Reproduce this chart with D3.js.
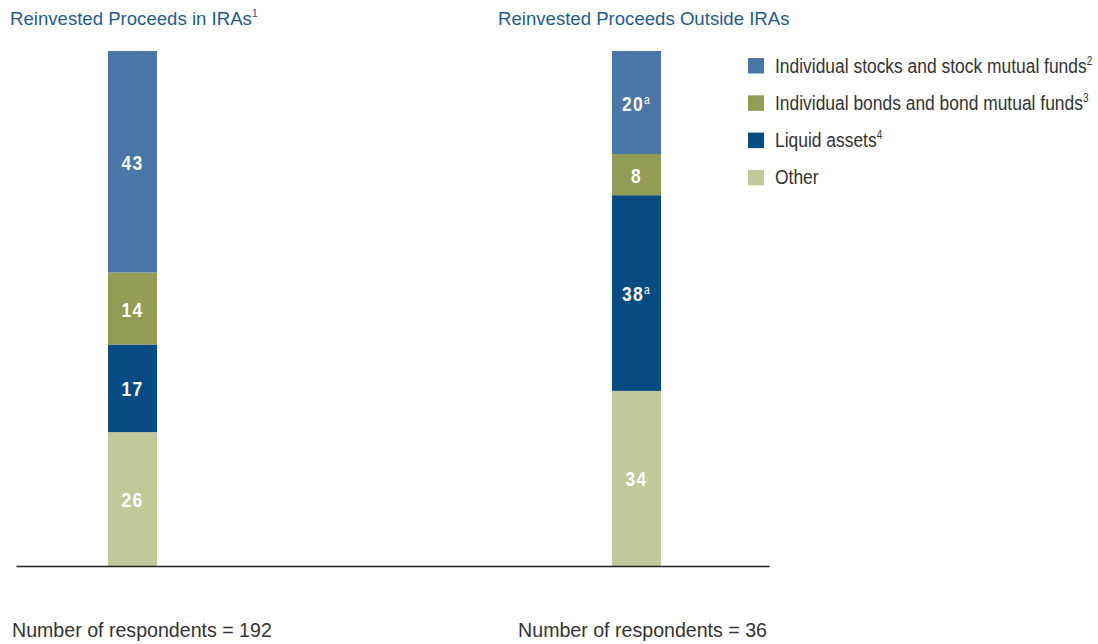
<!DOCTYPE html>
<html>
<head>
<meta charset="utf-8">
<script src="https://cdn.jsdelivr.net/npm/d3@7"></script>
<style>
  html, body { margin: 0; padding: 0; background: #fff; }
  svg { display: block; font-family: "Liberation Sans", Arial, sans-serif; }
</style>
</head>
<body>
<svg id="chart" width="1098" height="644"></svg>
<script>
// Panels (one stacked bar each)
const panels = ["Reinvested Proceeds in IRAs", "Reinvested Proceeds Outside IRAs"];
const panelNotes = ["1", ""];
const respondents = [192, 36];

// Series, in legend order (top of the stack first)
const seriesNames = ["Individual stocks and stock mutual funds", "Individual bonds and bond mutual funds", "Liquid assets", "Other"];
const seriesNotes = ["2", "3", "4", ""];
const seriesColors = ["#4a77a8", "#939c55", "#074b83", "#c1c899"];

// Percent values per panel
const stocks = [43, 20];
const bonds = [14, 8];
const liquid = [17, 38];
const other = [26, 34];
// Significance markers on value labels
const stocksMark = ["", "a"];
const bondsMark = ["", ""];
const liquidMark = ["", "a"];
const otherMark = ["", ""];

const svg = d3.select("#chart");

// Condensed text: a horizontally squeezed group holding one text element
function condensedText(parent, x, y, sx) {
  return parent.append("g")
    .attr("transform", `translate(${x},${y}) scale(${sx},1)`)
    .append("text");
}

const rows = panels.map((p, i) => ({
  panel: p,
  "Other": other[i],
  "Liquid assets": liquid[i],
  "Individual bonds and bond mutual funds": bonds[i],
  "Individual stocks and stock mutual funds": stocks[i]
}));
const marks = {
  "Individual stocks and stock mutual funds": stocksMark,
  "Individual bonds and bond mutual funds": bondsMark,
  "Liquid assets": liquidMark,
  "Other": otherMark
};

// Stack from the bottom: Other, Liquid, Bonds, Stocks
const stackKeys = seriesNames.slice().reverse();
const stacked = d3.stack().keys(stackKeys)(rows);
const color = d3.scaleOrdinal().domain(seriesNames).range(seriesColors);

const y = d3.scaleLinear().domain([0, 100]).range([566, 51]);
const x = d3.scalePoint().domain(panels).range([132.5, 636.5]);
const barW = 49;

// Bars
svg.append("g").selectAll("g").data(stacked).join("g")
  .attr("fill", d => color(d.key))
  .selectAll("rect").data(d => d).join("rect")
  .attr("x", d => x(d.data.panel) - barW / 2)
  .attr("width", barW)
  .attr("y", d => y(d[1]))
  .attr("height", d => y(d[0]) - y(d[1]));

// Value labels
const labelLayer = svg.append("g");
stacked.forEach(s => {
  s.forEach((v, i) => {
    const t = condensedText(labelLayer, x(v.data.panel), (y(v[0]) + y(v[1])) / 2 + 8, 0.85)
      .attr("text-anchor", "middle")
      .attr("fill", "#fff")
      .attr("font-weight", "bold")
      .attr("font-size", 20.5)
      .attr("letter-spacing", 1.5);
    t.append("tspan").text(v[1] - v[0]);
    const m = marks[s.key][i];
    if (m) t.append("tspan").attr("font-size", 12).attr("font-weight", "normal").attr("dy", -7).text(m);
  });
});

// Baseline
svg.append("g")
  .attr("transform", `translate(0,${y(0)})`)
  .call(d3.axisBottom(d3.scaleLinear().range([16, 769])).ticks(0).tickSize(0).tickFormat(""))
  .call(g => g.select(".domain").attr("stroke", "#222").attr("stroke-width", 1.3));

// Panel titles
const titleX = [10, 498];
panels.forEach((p, i) => {
  const t = svg.append("text").attr("x", titleX[i]).attr("y", 25)
    .attr("fill", "#1f5b93").attr("font-size", 18.6);
  t.append("tspan").text(p);
  if (panelNotes[i]) t.append("tspan").attr("font-size", 11).attr("dy", -8).text(panelNotes[i]);
});

// Respondent counts
condensedText(svg, 12, 637, 0.98)
  .attr("fill", "#333").attr("font-size", 20)
  .text(`Number of respondents = ${respondents[0]}`);
condensedText(svg, 767, 637, 0.98)
  .attr("text-anchor", "end").attr("fill", "#333").attr("font-size", 20)
  .text(`Number of respondents = ${respondents[1]}`);

// Legend
const legend = svg.append("g").selectAll("g").data(seriesNames).join("g")
  .attr("transform", (d, i) => `translate(748,${58 + i * 37.3})`);
legend.append("rect").attr("width", 16).attr("height", 15.5).attr("fill", d => color(d));
legend.each(function (d, i) {
  const t = condensedText(d3.select(this), 27, 14.5, 0.83)
    .attr("fill", "#333").attr("font-size", 21);
  t.append("tspan").text(d);
  if (seriesNotes[i]) t.append("tspan").attr("font-size", 12).attr("dy", -8).text(seriesNotes[i]);
});
</script>
</body>
</html>
